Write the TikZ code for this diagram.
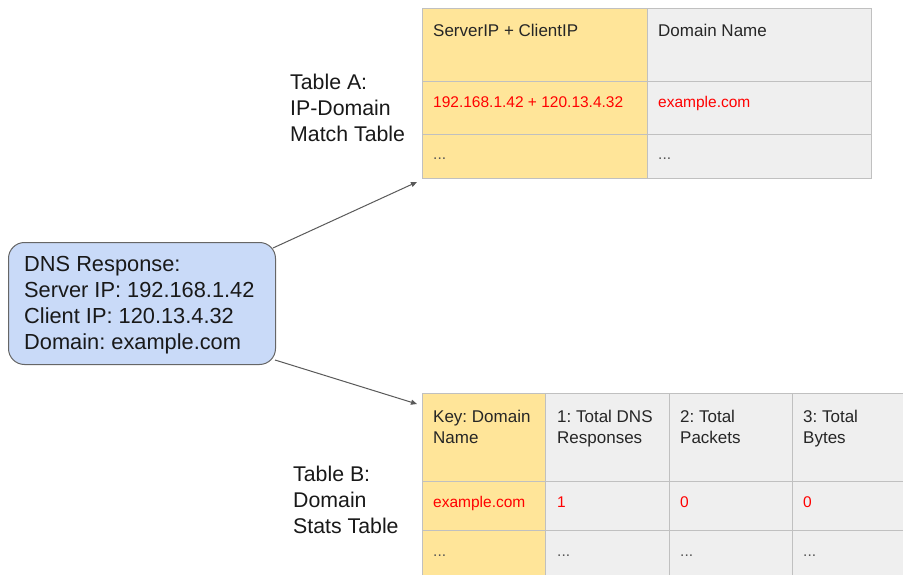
\documentclass[tikz,border=0pt]{standalone}
\usepackage{fontspec}
\setmainfont{Liberation Sans}
\frenchspacing
\usetikzlibrary{arrows.meta}
\definecolor{cellyellow}{HTML}{FFE599}
\definecolor{cellgray}{HTML}{EFEFEF}
\definecolor{gridline}{HTML}{C0C0C0}
\definecolor{boxblue}{HTML}{C9DAF8}
\definecolor{boxedge}{HTML}{666666}
\definecolor{arrowgray}{HTML}{595959}
\definecolor{redtext}{HTML}{FF0000}
\definecolor{dots}{HTML}{555555}
\tikzset{
  ycell/.style={draw=gridline, line width=1pt, fill=cellyellow, inner sep=0pt, anchor=north west},
  gcell/.style={draw=gridline, line width=1pt, fill=cellgray, inner sep=0pt, anchor=north west},
  celltext/.style={anchor=base west, inner sep=0pt, text=black!85, font=\fontsize{15.5}{22}\selectfont, align=left},
  headtext/.style={celltext, font=\fontsize{17}{21.5}\selectfont},
  headtwo/.style={headtext, anchor=north west},
  redcell/.style={celltext, text=redtext},
  dotcell/.style={celltext, text=dots},
  labeltext/.style={anchor=north west, inner sep=0pt, font=\fontsize{21.3}{26}\selectfont, align=left, text=black!90},
  dnsbox/.style={draw=boxedge, line width=1pt, fill=boxblue, rounded corners=16pt, anchor=north west, inner sep=0pt},
  boxtext/.style={anchor=north west, inner sep=0pt, font=\fontsize{21.8}{26}\selectfont, align=left, text=black!90},
  conn/.style={draw=arrowgray, line width=1pt, -{Triangle[length=6pt,width=5pt]}}
}
\begin{document}
\begin{tikzpicture}[x=1pt,y=-1pt]
\useasboundingbox (0,0) rectangle (903,575);
\clip (0,0) rectangle (903,575);
\fill[white] (0,0) rectangle (903,575);

% ---------- Table A ----------
\node[ycell, minimum width=225pt, minimum height=73pt] (a11) at (422,8) {};
\node[gcell, minimum width=224pt, minimum height=73pt] (a12) at (647,8) {};
\node[ycell, minimum width=225pt, minimum height=53pt] (a21) at (422,81) {};
\node[gcell, minimum width=224pt, minimum height=53pt] (a22) at (647,81) {};
\node[ycell, minimum width=225pt, minimum height=44pt] (a31) at (422,134) {};
\node[gcell, minimum width=224pt, minimum height=44pt] (a32) at (647,134) {};
\node[headtext] (ta11) at (433,37) {ServerIP + ClientIP};
\node[headtext] (ta12) at (658,37) {Domain Name};
\node[redcell] (ta21) at (433,108) {192.168.1.42 + 120.13.4.32};
\node[redcell] (ta22) at (658,108) {example.com};
\node[dotcell] (ta31) at (433,160) {...};
\node[dotcell] (ta32) at (658,160) {...};

% ---------- Table B ----------
\node[ycell, minimum width=123pt, minimum height=88pt] (b11) at (422,393) {};
\node[gcell, minimum width=124pt, minimum height=88pt] (b12) at (545,393) {};
\node[gcell, minimum width=123pt, minimum height=88pt] (b13) at (669,393) {};
\node[gcell, minimum width=123pt, minimum height=88pt] (b14) at (792,393) {};
\node[ycell, minimum width=123pt, minimum height=49pt] (b21) at (422,481) {};
\node[gcell, minimum width=124pt, minimum height=49pt] (b22) at (545,481) {};
\node[gcell, minimum width=123pt, minimum height=49pt] (b23) at (669,481) {};
\node[gcell, minimum width=123pt, minimum height=49pt] (b24) at (792,481) {};
\node[ycell, minimum width=123pt, minimum height=60pt] (b31) at (422,530) {};
\node[gcell, minimum width=124pt, minimum height=60pt] (b32) at (545,530) {};
\node[gcell, minimum width=123pt, minimum height=60pt] (b33) at (669,530) {};
\node[gcell, minimum width=123pt, minimum height=60pt] (b34) at (792,530) {};
\node[headtwo] (tb11) at (433,409.5) {Key: Domain\\Name};
\node[headtwo] (tb12) at (557,409.5) {1: Total DNS\\Responses};
\node[headtwo] (tb13) at (680,409.5) {2: Total\\Packets};
\node[headtwo] (tb14) at (803,409.5) {3: Total\\Bytes};
\node[redcell] (tb21) at (433,507) {example.com};
\node[redcell] (tb22) at (557,507) {1};
\node[redcell] (tb23) at (680,507) {0};
\node[redcell] (tb24) at (803,507) {0};
\node[dotcell] (tb31) at (433,556) {...};
\node[dotcell] (tb32) at (557,556) {...};
\node[dotcell] (tb33) at (680,556) {...};
\node[dotcell] (tb34) at (803,556) {...};

% ---------- Labels ----------
\node[labeltext] (labA) at (290,74) {Table A:\\IP-Domain\\Match Table};
\node[labeltext] (labB) at (293,466) {Table B:\\Domain\\Stats Table};

% ---------- DNS box ----------
\node[dnsbox, minimum width=267pt, minimum height=122pt] (dns) at (8,242) {};
\node[boxtext] (dnstext) at (24,256) {DNS Response:\\Server IP: 192.168.1.42\\Client IP: 120.13.4.32\\Domain: example.com};

% ---------- Connectors ----------
\coordinate (dnsTop) at (273,248);
\coordinate (dnsBot) at (275,360);
\coordinate (endA) at (417,182);
\coordinate (endB) at (417,404);
\draw[conn] (dnsTop) -- (endA);
\draw[conn] (dnsBot) -- (endB);
\end{tikzpicture}
\end{document}
